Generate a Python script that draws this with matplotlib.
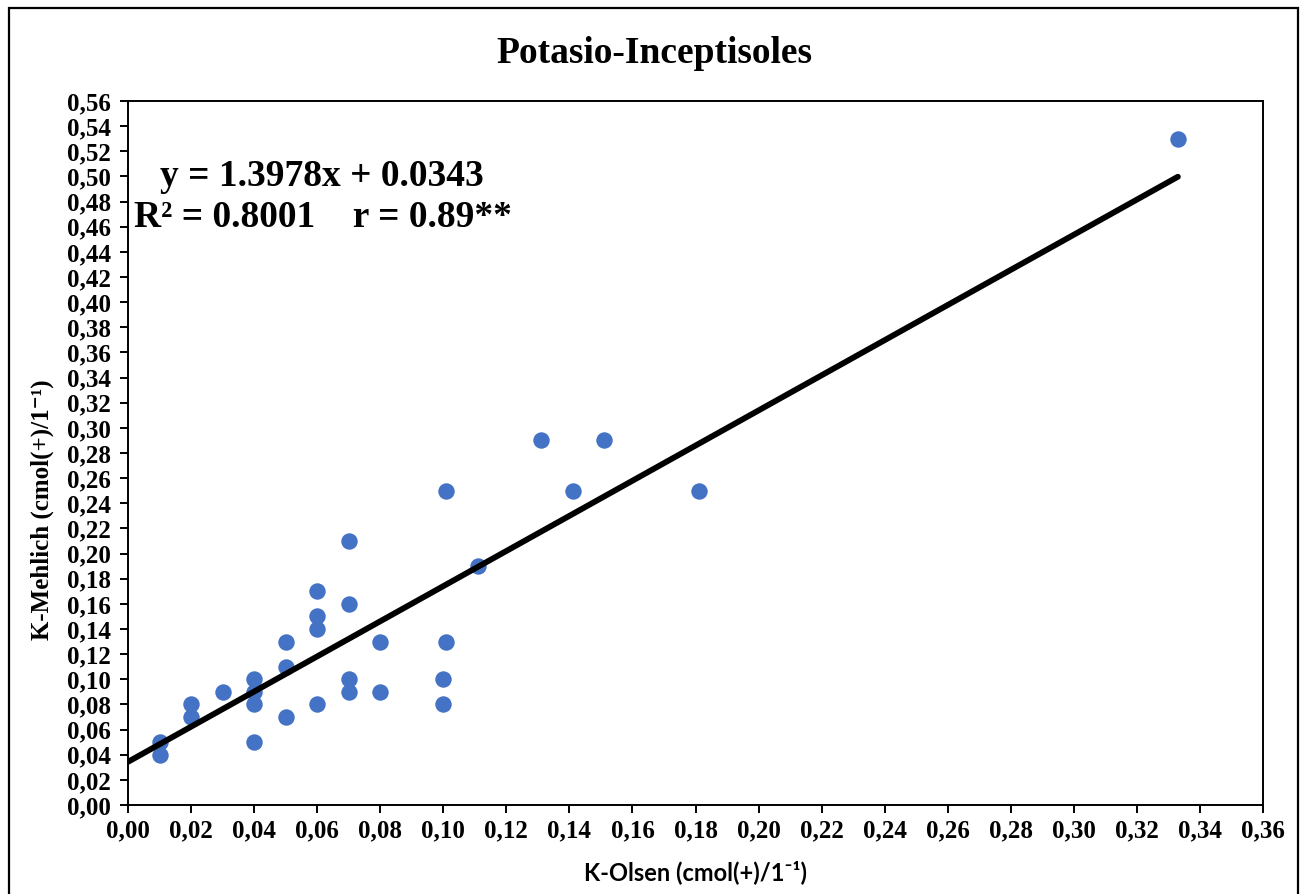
import matplotlib.pyplot as plt
import matplotlib.patches as patches
from matplotlib.ticker import FuncFormatter, MultipleLocator
import numpy as np

# K-Olsen vs K-Mehlich, cmol(+)/l
k_olsen = [0.01, 0.01, 0.02, 0.02, 0.03, 0.04, 0.04, 0.04, 0.04,
           0.05, 0.05, 0.05, 0.06, 0.06, 0.06, 0.06, 0.07, 0.07,
           0.07, 0.07, 0.08, 0.08, 0.101, 0.101, 0.10, 0.10, 0.111,
           0.131, 0.141, 0.151, 0.181, 0.333]
k_mehlich = [0.05, 0.04, 0.08, 0.07, 0.09, 0.10, 0.09, 0.08, 0.05,
             0.13, 0.11, 0.07, 0.17, 0.15, 0.14, 0.08, 0.21, 0.16,
             0.10, 0.09, 0.13, 0.09, 0.25, 0.13, 0.10, 0.08, 0.19,
             0.29, 0.25, 0.29, 0.25, 0.53]

slope = 1.3978
intercept = 0.0343

serif = ['Liberation Serif', 'DejaVu Serif']
sans = ['Lato', 'DejaVu Sans']

fig = plt.figure(figsize=(13.01, 8.94), dpi=100)
ax = fig.add_axes([0.0984, 0.0996, 0.8724, 0.7874])

ax.scatter(k_olsen, k_mehlich, s=140, color='#4472C4', zorder=2, linewidths=0)

xfit = np.array([0, max(k_olsen)])
ax.plot(xfit, slope * xfit + intercept, color='black', lw=4.2,
        solid_capstyle='round', zorder=3)

ax.set_xlim(0, 0.36)
ax.set_ylim(0, 0.56)
ax.xaxis.set_major_locator(MultipleLocator(0.02))
ax.yaxis.set_major_locator(MultipleLocator(0.02))
comma = FuncFormatter(lambda v, pos: f'{v:.2f}'.replace('.', ','))
ax.xaxis.set_major_formatter(comma)
ax.yaxis.set_major_formatter(comma)
ax.tick_params(direction='out', length=6, width=1.4, color='black', pad=4)
ax.tick_params(axis='y', pad=6)
for lab in ax.get_xticklabels() + ax.get_yticklabels():
    lab.set_family(serif)
    lab.set_fontweight('bold')
    lab.set_fontsize(18)
for sp in ax.spines.values():
    sp.set_linewidth(1.4)
    sp.set_color('black')

ax.text(0.464, 1.067, 'Potasio-Inceptisoles', transform=ax.transAxes,
        family=serif, fontweight='bold', fontsize=27, ha='center', va='center')
ax.text(-0.0758, 0.42, 'K-Mehlich (cmol(+)/1⁻¹)', transform=ax.transAxes,
        family=serif, fontweight='bold', fontsize=18, rotation=90,
        ha='center', va='center')
ax.text(0.5, -0.095, 'K-Olsen (cmol(+)/1⁻¹)', transform=ax.transAxes,
        family=sans, fontweight='bold', fontsize=17, ha='center', va='center')

ax.text(0.028, 0.893, f'y = {slope}x + {intercept}', transform=ax.transAxes,
        family=serif, fontweight='bold', fontsize=27, ha='left', va='center')
ax.text(0.005, 0.835, 'R² = 0.8001    r = 0.89**', transform=ax.transAxes,
        family=serif, fontweight='bold', fontsize=27, ha='left', va='center')

# chart area frame
fig.patches.append(patches.Rectangle((9 / 1301, -0.02), 1289 / 1301, 1.02 - 8 / 894,
                                     transform=fig.transFigure, fill=False,
                                     edgecolor='black', linewidth=1.6))

fig.savefig('out.png', dpi=100)
